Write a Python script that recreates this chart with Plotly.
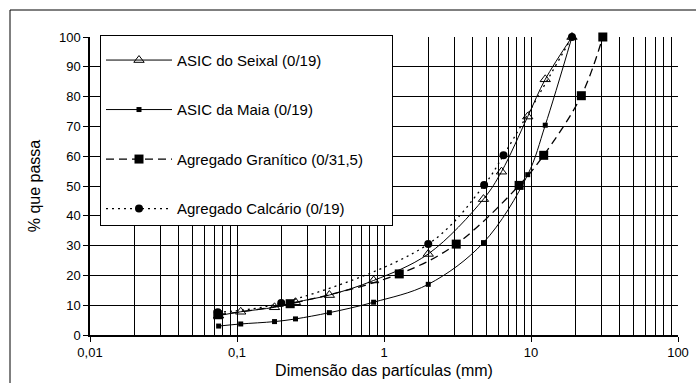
import plotly.graph_objects as go

# Data
seixal_x = [0.075, 0.106, 0.18, 0.25, 0.425, 0.85, 2.0, 4.75, 6.3, 9.5, 12.5, 19]
seixal_y = [6.5, 7.8, 9.3, 11.0, 13.4, 18.3, 27.2, 45.6, 54.8, 73.3, 85.8, 100]

maia_x = [0.075, 0.106, 0.18, 0.25, 0.425, 0.85, 2.0, 4.75, 9.5, 12.5, 19]
maia_y = [3.0, 3.7, 4.5, 5.4, 7.5, 11.0, 17.0, 31.0, 53.8, 70.4, 100]

granito_x = [0.074, 0.23, 1.27, 3.1, 8.3, 12.2, 22.0, 30.8]
granito_y = [6.8, 10.5, 20.5, 30.5, 50.2, 60.3, 80.3, 100]

calcario_x = [0.074, 0.2, 2.0, 4.8, 6.5, 19]
calcario_y = [7.6, 10.7, 30.5, 50.3, 60.3, 100]

names = ["ASIC do Seixal (0/19)", "ASIC da Maia (0/19)",
         "Agregado Granítico (0/31,5)", "Agregado Calcário (0/19)"]

x_tickvals = [0.01, 0.1, 1, 10, 100]
x_ticktext = ["0,01", "0,1", "1", "10", "100"]
minor_vals = [k * 10 ** d for d in (-2, -1, 0, 1) for k in range(2, 10)]

FONT = "Liberation Sans, Arial, sans-serif"

fig = go.Figure()
common = dict(mode="lines+markers", line_shape="spline", cliponaxis=False)

fig.add_trace(go.Scatter(x=seixal_x, y=seixal_y, name=names[0], legendgroup="a",
                         line=dict(color="black", width=1),
                         marker=dict(symbol="triangle-up-open", size=9, color="black",
                                     line=dict(width=1, color="black")), **common))
fig.add_trace(go.Scatter(x=maia_x, y=maia_y, name=names[1], legendgroup="b",
                         line=dict(color="black", width=1),
                         marker=dict(symbol="square", size=5, color="black"), **common))
fig.add_trace(go.Scatter(x=granito_x, y=granito_y, name=names[2], legendgroup="c",
                         line=dict(color="black", width=1.3, dash="8px,5px"),
                         marker=dict(symbol="square", size=9, color="black"), **common))
fig.add_trace(go.Scatter(x=calcario_x, y=calcario_y, name=names[3], legendgroup="d",
                         line=dict(color="black", width=1.3, dash="2px,4px"),
                         marker=dict(symbol="circle", size=8, color="black"), **common))

fig.update_layout(
    width=696, height=383,
    margin=dict(l=90, r=18, t=37, b=48, autoexpand=False),
    paper_bgcolor="white", plot_bgcolor="white",
    font=dict(family=FONT, color="black", size=13),
    showlegend=True,
    legend=dict(x=10 / 588, y=1 + 2 / 298, xanchor="left", yanchor="top",
                bgcolor="white", bordercolor="black", borderwidth=1,
                font=dict(size=15, family=FONT), tracegroupgap=27,
                itemwidth=66, maxheight=383,
                title=dict(text="\u00a0" * 172, font=dict(size=6, family=FONT))),
    xaxis=dict(type="log", range=[-2, 2], tickvals=x_tickvals, ticktext=x_ticktext,
               automargin=False,
               showgrid=True, gridcolor="black", gridwidth=1,
               minor=dict(tickvals=minor_vals, showgrid=True, gridcolor="black",
                          gridwidth=1, ticks=""),
               showline=True, linecolor="black", linewidth=1.5,
               ticks="outside", ticklen=5, tickcolor="black",
               tickfont=dict(size=13),
               title=dict(text="Dimensão das partículas (mm)", font=dict(size=16), standoff=5)),
    yaxis=dict(range=[0, 100], dtick=10, showgrid=True, gridcolor="black", gridwidth=1,
               automargin=False,
               zeroline=False, showline=True, linecolor="black", linewidth=1.5,
               ticks="outside", ticklen=5, tickcolor="black",
               tickfont=dict(size=13),
               title=dict(text="% que passa", font=dict(size=16), standoff=14)),
    shapes=[dict(type="rect", xref="paper", yref="paper",
                 x0=(10 - 90) / 588, x1=1.05, y0=-0.3, y1=1 + 27 / 298,
                 line=dict(color="black", width=1), layer="below")],
)

fig.write_html("out.html")
